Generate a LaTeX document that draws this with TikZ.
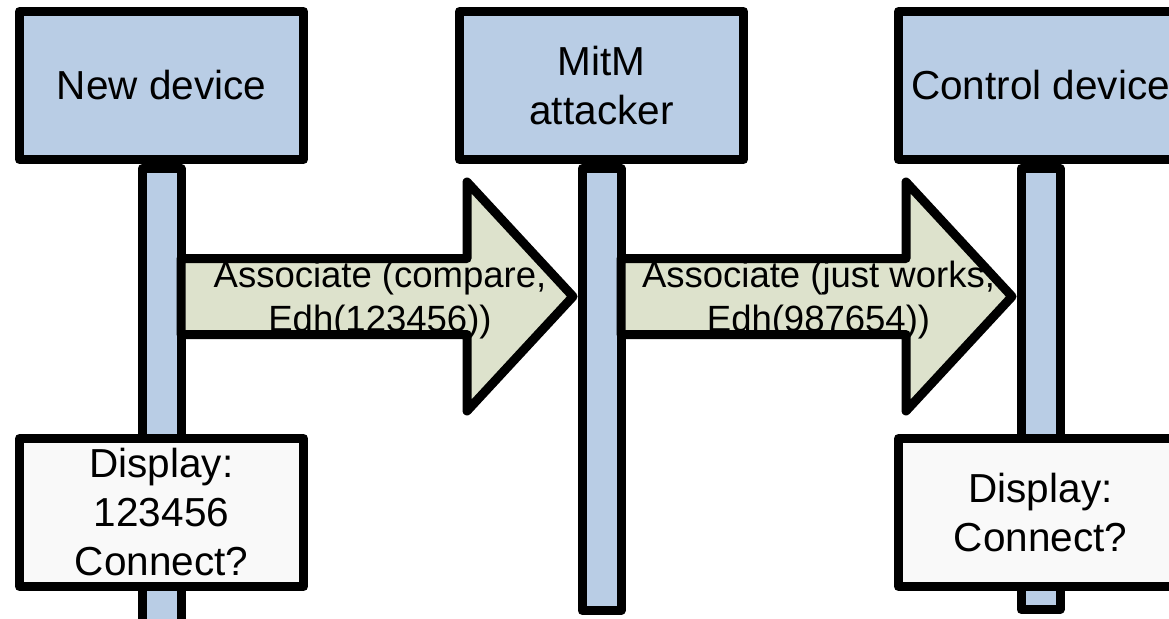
\documentclass[tikz,border=0pt]{standalone}
\usepackage{fontspec}
\setmainfont{Liberation Sans}
\usetikzlibrary{positioning,calc}

\definecolor{headblue}{RGB}{185,205,229}
\definecolor{msggreen}{RGB}{221,226,204}
\definecolor{dispgray}{RGB}{249,249,249}

\tikzset{
  party/.style={draw, line width=9pt, line join=round, fill=headblue,
    minimum width=284pt, minimum height=148pt, inner sep=2pt, align=center,
    font=\fontsize{40.5}{49}\selectfont},
  display/.style={party, fill=dispgray},
  life/.style={draw, line width=9pt, line join=round, fill=headblue,
    minimum width=39pt, anchor=north},
  msg/.style={draw, line width=9pt, line join=round, fill=msggreen},
  msgtext/.style={align=center, inner sep=0pt, font=\fontsize{36.5}{44}\selectfont}
}

% block arrow from a start point to its tip
\newcommand{\msgarrow}[2]{%
  \draw[msg] (#1) ++(0,-38) -- ([shift={(-106,-38)}]#2) -- ([shift={(-106,-114.5)}]#2) -- (#2)
    -- ([shift={(-106,114.5)}]#2) -- ([shift={(-106,38)}]#2) -- ([shift={(0,38)}]#1) -- cycle;}

\begin{document}
\begin{tikzpicture}[x=1pt, y=-1pt]
  \useasboundingbox (0,0) rectangle (1169,618);
  \clip (0,0) rectangle (1169,618);

  % Parties
  \node[party] (new) at (161.5,85.5) {New device};
  \node[party, right=147pt of new] (mitm) {MitM\\attacker};
  \node[party, right=146pt of mitm] (ctrl) {Control device};

  % Lifelines
  \node[life, minimum height=470pt] (newlife) at (new.south) {};
  \node[life, minimum height=442pt] (mitmlife) at (mitm.south) {};
  \node[life, minimum height=441pt] (ctrllife) at (ctrl.south) {};

  % Displays
  \node[display, below=270pt of new] (newdisp) {Display:\\123456\\Connect?};
  \node[display, below=270pt of ctrl] (ctrldisp) {Display:\\Connect?};

  % Messages
  \path (newlife.east |- 0,296.5) ++(-4.5,0) coordinate (m1from);
  \path (mitmlife.west |- 0,296.5) ++(-4.5,0) coordinate (m1to);
  \path (mitmlife.east |- 0,296.5) ++(-4.5,0) coordinate (m2from);
  \path (ctrllife.west |- 0,296.5) ++(-4.5,0) coordinate (m2to);

  \msgarrow{m1from}{m1to}
  \msgarrow{m2from}{m2to}

  \node[msgtext] (m1label) at ($(m1from)!0.5!(m1to)+(3,4)$) {Associate (compare,\\Edh(123456))};
  \node[msgtext] (m2label) at ($(m2from)!0.5!(m2to)+(2,4)$) {Associate (just works,\\Edh(987654))};
\end{tikzpicture}
\end{document}
